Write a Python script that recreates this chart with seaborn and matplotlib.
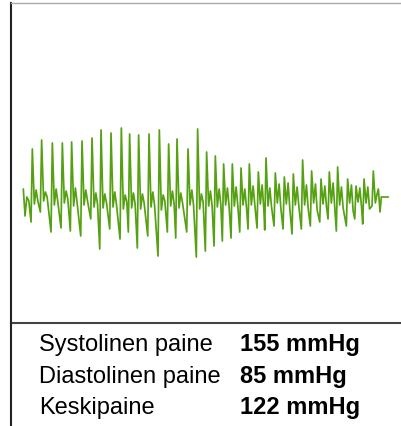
import numpy as np
import pandas as pd

import seaborn as sns
import matplotlib.pyplot as plt
from matplotlib.lines import Line2D

# oscillometric cuff pulse: time of each pulse peak (s) and amplitude readings (mmHg)
peak_t = [0.90, 1.83, 2.90, 3.90, 4.83, 5.87, 6.87, 7.77, 8.77, 9.80,
          10.63, 11.53, 12.57, 13.60, 14.53, 15.37, 16.47, 17.43, 18.33, 19.20,
          20.03, 20.90, 21.77, 22.60, 23.50, 24.27, 25.20, 26.10, 27.00, 27.93,
          28.83, 29.77, 30.60, 31.43, 32.43, 33.27, 34.07]
peak_p = [2.5, 2.95, 2.8, 2.8, 2.85, 2.9, 3.05, 3.45, 3.3, 3.55,
          3.25, 3.2, 3.25, 3.45, 2.75, 3.0, 2.5, 3.5, 2.35, 2.15,
          1.75, 1.75, 1.55, 1.75, 1.35, 2.05, 1.3, 1.1, 1.25, 1.95,
          1.4, 1.0, 1.35, 1.6, 1.0, 0.65, 1.0]
trough_p = [-1.15, -0.65, -1.65, -1.45, -1.6, -1.85, -1.0, -2.5, -1.5, -2.0,
            -1.65, -2.45, -1.85, -2.85, -1.65, -1.95, -1.65, -2.9, -2.6, -2.35,
            -2.1, -1.95, -1.65, -1.5, -1.45, -1.55, -1.35, -1.5, -1.75, -1.5,
            -1.35, -1.15, -1.0, -1.6, -1.35, -1.0, -1.25]
notch_p = [-0.25, -0.1, -0.3, -0.2, -0.35, -0.3, -0.4, -0.45, -0.4, -0.5,
           -0.45, -0.5, -0.4, -0.55, -0.35, -0.45, -0.3, -0.5, -0.35, -0.4,
           -0.3, -0.35, -0.3, -0.3, -0.25, -0.35, -0.2, -0.25, -0.3, -0.3,
           -0.2, -0.25, -0.2, -0.3, -0.2, -0.15, -0.2]
shoulder_p = [0.45, 0.35, 0.5, 0.4, 0.55, 0.45, 0.3, 0.25, 0.35, 0.2,
              0.3, 0.25, 0.35, 0.2, 0.4, 0.3, 0.45, 0.25, 0.4, 0.5,
              0.55, 0.6, 0.5, 0.65, 0.7, 0.55, 0.75, 0.8, 0.6, 0.7,
              0.75, 0.65, 0.8, 0.6, 0.7, 0.55, 0.6]
low_p = [-0.1, 0.1, -0.15, 0.0, -0.2, -0.1, -0.25, -0.2, -0.3, -0.15,
         -0.25, -0.2, -0.3, -0.1, -0.25, -0.2, -0.3, -0.15, -0.35, -0.3,
         -0.4, -0.35, -0.45, -0.3, -0.5, -0.4, -0.45, -0.5, -0.35, -0.45,
         -0.55, -0.4, -0.5, -0.45, -0.6, -0.4, -0.5]

# start and end of the recording
head_t = [0.0, 0.17, 0.35, 0.55]
head_p = [0.5, -0.85, 0.1, -0.1]
tail_t = [34.87, 35.0, 35.2, 35.35, 35.5, 35.67, 35.8, 36.5]
tail_p = [-0.35, 1.4, -0.2, 0.2, 0.5, -0.65, 0.1, 0.1]

labels = ['Systolinen paine', 'Diastolinen paine', 'Keskipaine']
values = ['155 mmHg', '85 mmHg', '122 mmHg']

# build the trace: trough, peak, dicrotic notch, shoulder, dip for every pulse
t_pts = list(head_t)
p_pts = list(head_p)
for tp, tr, pk, nt, sh, lo in zip(peak_t, trough_p, peak_p, notch_p, shoulder_p, low_p):
    t_pts += [tp - 0.13, tp, tp + 0.2, tp + 0.38, tp + 0.55]
    p_pts += [tr, pk, nt, sh, lo]
t_pts += tail_t
p_pts += tail_p
wave = pd.DataFrame({'t': t_pts, 'p': p_pts})

sns.set_style('white')
plt.rcParams['font.family'] = ['Liberation Sans', 'DejaVu Sans']

W, H = 402, 427
fig = plt.figure(figsize=(W / 100, H / 100), dpi=100)

# chart box: left edge at 11px, top at 4px, separator at 324px
ax = fig.add_axes([11 / W, (H - 324) / H, 1.1, 320 / H])
sns.lineplot(data=wave, x='t', y='p', sort=False, estimator=None,
             color='#55a112', lw=1.25, ax=ax)
ax.set_xlim(-1.233, -1.233 + 1.1 * W / 10)
ax.set_ylim(-124 / 20, 196 / 20)
ax.set(xticks=[], yticks=[], xlabel='', ylabel='')
ax.spines['right'].set_visible(False)
ax.spines['left'].set_color('#222222')
ax.spines['left'].set_linewidth(1.5)
ax.spines['top'].set_color('#aaaaaa')
ax.spines['top'].set_linewidth(1.0)
ax.spines['bottom'].set_color('#444444')
ax.spines['bottom'].set_linewidth(1.5)

# left border continues down past the table
fig.add_artist(Line2D([11 / W, 11 / W], [0, (H - 324) / H],
                      color='#222222', lw=1.5))

baselines = [351, 383, 414]
for lab, val, yb in zip(labels, values, baselines):
    fig.text(39 / W, 1 - yb / H, lab, fontsize=17, color='black',
             va='baseline', ha='left')
    fig.text(240 / W, 1 - yb / H, val, fontsize=17, fontweight='bold',
             color='black', va='baseline', ha='left')

plt.savefig('out.png', dpi=100)
